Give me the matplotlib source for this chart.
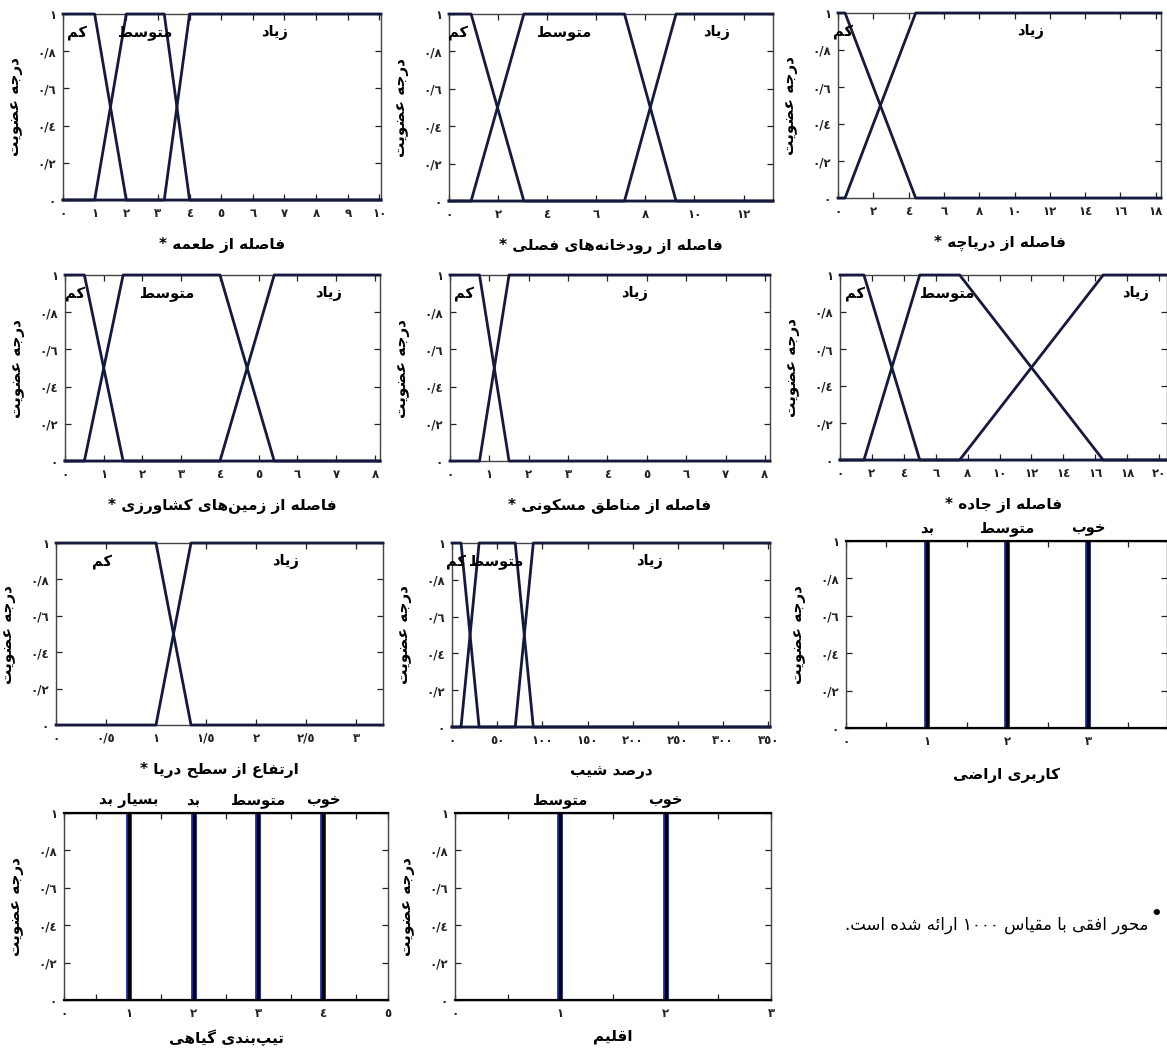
import re
import matplotlib
matplotlib.use('Agg')
import matplotlib.pyplot as plt

plt.rcParams['font.family'] = ['DejaVu Sans']

# ---------------- data ----------------
y_axis_label = 'درجه عضویت'
y_ticks = [0, 0.2, 0.4, 0.6, 0.8, 1.0]

low_label, mid_label, high_label = 'کم', 'متوسط', 'زیاد'

# panel 1: distance from bait
bait_title = 'فاصله از طعمه *'
bait_xticks = [0, 1, 2, 3, 4, 5, 6, 7, 8, 9, 10]
bait_low = [1.0, 2.0]
bait_mid = [1.0, 2.0, 3.2, 4.0]
bait_high = [3.2, 4.0]

# panel 2: seasonal rivers
river_title = 'فاصله از رودخانه\u200cهای فصلی *'
river_xticks = [0, 2, 4, 6, 8, 10, 12]
river_low = [0.9, 3.05]
river_mid = [0.9, 3.05, 7.15, 9.25]
river_high = [7.15, 9.25]

# panel 3: lake
lake_title = 'فاصله از دریاچه *'
lake_xticks = [0, 2, 4, 6, 8, 10, 12, 14, 16, 18]
lake_low = [0.4, 4.4]
lake_high = [0.4, 4.4]

# panel 4: farmland
farm_title = 'فاصله از زمین\u200cهای کشاورزی *'
farm_xticks = [0, 1, 2, 3, 4, 5, 6, 7, 8]
farm_low = [0.5, 1.5]
farm_mid = [0.5, 1.5, 4.0, 5.4]
farm_high = [4.0, 5.4]

# panel 5: residential areas
resid_title = 'فاصله از مناطق مسکونی *'
resid_xticks = [0, 1, 2, 3, 4, 5, 6, 7, 8]
resid_low = [0.75, 1.5]
resid_high = [0.75, 1.5]

# panel 6: road
road_title = 'فاصله از جاده *'
road_xticks = [0, 2, 4, 6, 8, 10, 12, 14, 16, 18, 20]
road_low = [1.5, 5.0]
road_mid = [1.5, 5.0, 7.5, 16.5]
road_high = [7.5, 16.5]

# panel 7: elevation
elev_title = 'ارتفاع از سطح دریا *'
elev_xticks = [0, 0.5, 1, 1.5, 2, 2.5, 3]
elev_low = [1.0, 1.35]
elev_high = [1.0, 1.35]

# panel 8: slope percent
slope_title = 'درصد شیب'
slope_xticks = [0, 50, 100, 150, 200, 250, 300, 350]
slope_low = [10, 30]
slope_mid = [10, 30, 70, 90]
slope_high = [70, 90]

# panel 9: land use (singletons)
landuse_title = 'کاربری اراضی'
landuse_xticks = [0, 1, 2, 3]
landuse_values = [1, 2, 3]
landuse_labels = ['بد', 'متوسط', 'خوب']

# panel 10: vegetation type (singletons)
veg_title = 'تیپ\u200cبندی گیاهی'
veg_xticks = [0, 1, 2, 3, 4, 5]
veg_values = [1, 2, 3, 4]
veg_labels = ['بسیار بد', 'بد', 'متوسط', 'خوب']

# panel 11: climate (singletons)
climate_title = 'اقلیم'
climate_xticks = [0, 1, 2, 3]
climate_values = [1, 2]
climate_labels = ['متوسط', 'خوب']

note_text = 'محور افقی با مقیاس ۱۰۰۰ ارائه شده است.'

# ---------------- Persian shaping helpers ----------------
FORMS = {
    'ء': (0xFE80, 'N'),
    'آ': (0xFE81, 'R'), 'أ': (0xFE83, 'R'), 'ؤ': (0xFE85, 'R'), 'إ': (0xFE87, 'R'),
    'ئ': (0xFE89, 'D'), 'ا': (0xFE8D, 'R'), 'ب': (0xFE8F, 'D'), 'ة': (0xFE93, 'R'),
    'ت': (0xFE95, 'D'), 'ث': (0xFE99, 'D'), 'ج': (0xFE9D, 'D'), 'ح': (0xFEA1, 'D'),
    'خ': (0xFEA5, 'D'), 'د': (0xFEA9, 'R'), 'ذ': (0xFEAB, 'R'), 'ر': (0xFEAD, 'R'),
    'ز': (0xFEAF, 'R'), 'س': (0xFEB1, 'D'), 'ش': (0xFEB5, 'D'), 'ص': (0xFEB9, 'D'),
    'ض': (0xFEBD, 'D'), 'ط': (0xFEC1, 'D'), 'ظ': (0xFEC5, 'D'), 'ع': (0xFEC9, 'D'),
    'غ': (0xFECD, 'D'), 'ف': (0xFED1, 'D'), 'ق': (0xFED5, 'D'), 'ك': (0xFED9, 'D'),
    'ل': (0xFEDD, 'D'), 'م': (0xFEE1, 'D'), 'ن': (0xFEE5, 'D'), 'ه': (0xFEE9, 'D'),
    'و': (0xFEED, 'R'), 'ى': (0xFEEF, 'R'), 'ي': (0xFEF1, 'D'),
    'پ': (0xFB56, 'D'), 'چ': (0xFB7A, 'D'), 'ژ': (0xFB8A, 'R'), 'ک': (0xFB8E, 'D'),
    'گ': (0xFB92, 'D'), 'ی': (0xFBFC, 'D'),
}


def fa(text):
    chars = list(text)
    n = len(chars)
    out = []
    i = 0
    while i < n:
        c = chars[i]
        prev = chars[i - 1] if i > 0 else None
        nxt = chars[i + 1] if i + 1 < n else None
        if c not in FORMS:
            out.append(c)
            i += 1
            continue
        base, kind = FORMS[c]
        jp = prev in FORMS and FORMS[prev][1] == 'D' and kind in 'DR'
        if c == 'ل' and nxt == 'ا':
            out.append(chr(0xFEFC if jp else 0xFEFB))
            i += 2
            continue
        jn = kind == 'D' and nxt in FORMS and FORMS[nxt][1] in 'DR'
        if kind == 'N':
            cp = base
        elif jp and jn:
            cp = base + 3
        elif jp:
            cp = base + 1
        elif jn:
            cp = base + 2
        else:
            cp = base
        out.append(chr(cp))
        i += 1
    s = ''.join(out).replace('\u200c', '')
    s = s[::-1]
    s = re.sub(r'[0-9\u0660-\u0669\u06F0-\u06F9]+', lambda m: m.group(0)[::-1], s)
    return s


AR_DIGITS = '٠١٢٣٤٥٦٧٨٩'


def fa_num(v):
    s = '%g' % v
    return ''.join(AR_DIGITS[int(ch)] if ch.isdigit() else ('/' if ch == '.' else ch) for ch in s)


# ---------------- figure ----------------
W, H = 1167, 1048
fig = plt.figure(figsize=(W / 100, H / 100), dpi=100)

LINE_C = '#15193d'
SPINE_C = '#444444'


def make_axes(l, t, r, b):
    return fig.add_axes([l / W, 1 - b / H, (r - l) / W, (b - t) / H])


def style_axes(ax, xlim, xticks, title, l, t, r, b, minor_half=False, xlab_off=37):
    ax.set_xlim(*xlim)
    ax.set_ylim(0, 1)
    if minor_half:
        major = [k * 0.5 for k in range(int(xlim[1] * 2) + 1)]
        ax.set_xticks(major)
        ax.set_xticklabels([fa_num(v) if float(v).is_integer() and v in xticks else '' for v in major])
    else:
        ax.set_xticks(xticks)
        ax.set_xticklabels([fa_num(v) for v in xticks])
    ax.set_yticks(y_ticks)
    ax.set_yticklabels([fa_num(v) for v in y_ticks])
    ax.tick_params(direction='in', length=4, width=0.9, top=True, right=True,
                   labelsize=8.5, pad=5, colors='#222222')
    for lab in ax.get_xticklabels() + ax.get_yticklabels():
        lab.set_fontweight('bold')
    for sp in ax.spines.values():
        sp.set_color(SPINE_C)
        sp.set_linewidth(1.0)
    wpx, hpx = r - l, b - t
    ax.set_ylabel(fa(y_axis_label), fontsize=11, fontweight='bold')
    ax.yaxis.set_label_coords(-40 / wpx, 0.5)
    ax.set_xlabel(fa(title), fontsize=11, fontweight='bold')
    ax.xaxis.set_label_coords(0.5, -xlab_off / hpx)


def plot_low(ax, p, xmax):
    ax.plot([0, p[0], p[1], xmax], [1, 1, 0, 0], color=LINE_C, lw=2, clip_on=False, zorder=3)


def plot_mid(ax, p, xmax):
    ax.plot([0, p[0], p[1], p[2], p[3], xmax], [0, 0, 1, 1, 0, 0], color=LINE_C, lw=2,
            clip_on=False, zorder=3)


def plot_high(ax, p, xmax):
    ax.plot([0, p[0], p[1], xmax], [0, 0, 1, 1], color=LINE_C, lw=2, clip_on=False, zorder=3)


def label(ax, x, s, y=0.9):
    ax.text(x, y, fa(s), fontsize=10.5, fontweight='bold', ha='center', va='center', zorder=4)


def fuzzy_panel(rect, xlim, xticks, title, low, mid, high, lab_x):
    l, t, r, b = rect
    ax = make_axes(l, t, r, b)
    style_axes(ax, xlim, xticks, title, l, t, r, b)
    xmax = xlim[1]
    plot_low(ax, low, xmax)
    if mid is not None:
        plot_mid(ax, mid, xmax)
    plot_high(ax, high, xmax)
    names = [low_label, mid_label, high_label] if mid is not None else [low_label, high_label]
    for x, s in zip(lab_x, names):
        label(ax, x, s)
    return ax


def singleton_panel(rect, xlim, xticks, title, values, names, xlab_off=38):
    l, t, r, b = rect
    ax = make_axes(l, t, r, b)
    style_axes(ax, xlim, xticks, title, l, t, r, b, minor_half=True, xlab_off=xlab_off)
    for v, s in zip(values, names):
        ax.plot([v, v], [0, 1], color='#1f2fb0', lw=4.2, solid_capstyle='butt', zorder=3)
        ax.plot([v, v], [0, 1], color='black', lw=2.4, solid_capstyle='butt', zorder=4)
        ax.text(v, 1.025, fa(s), fontsize=10.5, fontweight='bold', ha='center', va='bottom')
    ax.plot(list(xlim), [1, 1], color='black', lw=1.6, clip_on=False, zorder=3)
    ax.plot(list(xlim), [0, 0], color='black', lw=1.6, clip_on=False, zorder=3)
    return ax


# row 1
fuzzy_panel((63, 14, 381, 200), (0, 10.05), bait_xticks, bait_title,
            bait_low, bait_mid, bait_high, [0.45, 2.6, 6.7])
fuzzy_panel((449, 14, 773, 201), (0, 13.2), river_xticks, river_title,
            river_low, river_mid, river_high, [0.35, 4.7, 10.9])
fuzzy_panel((838, 13, 1161, 198), (0, 18.3), lake_xticks, lake_title,
            lake_low, None, lake_high, [0.3, 10.9])
# row 2
fuzzy_panel((65, 275, 380, 461), (0, 8.13), farm_xticks, farm_title,
            farm_low, farm_mid, farm_high, [0.25, 2.65, 6.8])
fuzzy_panel((450, 275, 770, 461), (0, 8.13), resid_xticks, resid_title,
            resid_low, None, resid_high, [0.35, 4.7])
fuzzy_panel((840, 275, 1167, 460), (0, 20.5), road_xticks, road_title,
            road_low, road_mid, road_high, [0.95, 6.7, 18.5])
# row 3
fuzzy_panel((56, 543, 383, 725), (0, 3.27), elev_xticks, elev_title,
            elev_low, None, elev_high, [0.46, 2.3])
fuzzy_panel((452, 543, 770, 727), (0, 352), slope_xticks, slope_title,
            slope_low, slope_mid, slope_high, [4.5, 49, 219])
singleton_panel((846, 541, 1167, 728), (0, 3.98), landuse_xticks, landuse_title,
                landuse_values, landuse_labels, xlab_off=40)
# row 4
singleton_panel((64, 813, 388, 1000), (0, 5), veg_xticks, veg_title,
                veg_values, veg_labels, xlab_off=29)
singleton_panel((455, 813, 771, 1000), (0, 3), climate_xticks, climate_title,
                climate_values, climate_labels, xlab_off=29)

# footnote
fig.text(1148 / W, 1 - 925 / H, fa(note_text), fontsize=12, ha='right', va='center')
fig.text(1156 / W, 1 - 914 / H, '•', fontsize=13, fontweight='bold', ha='center', va='center')

fig.savefig('out.png', dpi=100)
